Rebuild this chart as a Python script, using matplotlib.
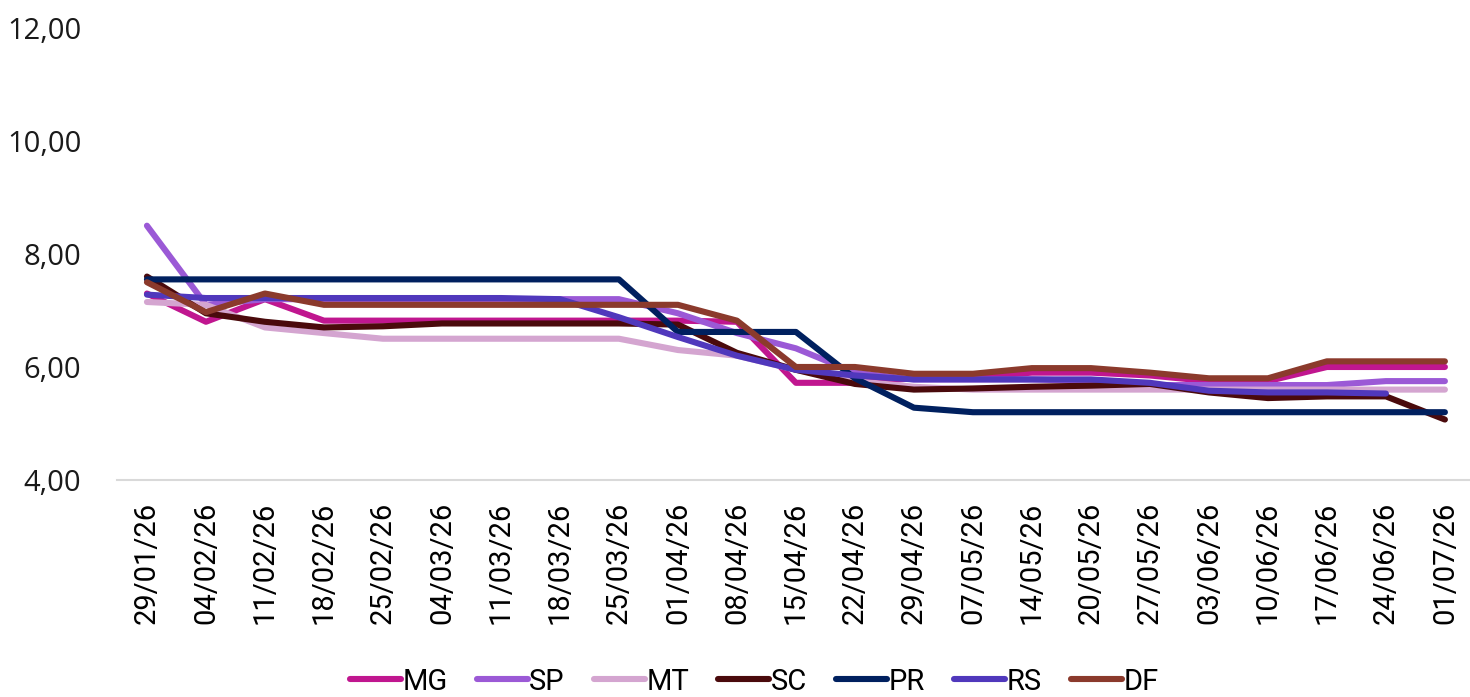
import matplotlib
matplotlib.use("Agg")
import matplotlib.pyplot as plt
import numpy as np

dates = ["29/01/26", "04/02/26", "11/02/26", "18/02/26", "25/02/26", "04/03/26",
         "11/03/26", "18/03/26", "25/03/26", "01/04/26", "08/04/26", "15/04/26",
         "22/04/26", "29/04/26", "07/05/26", "14/05/26", "20/05/26", "27/05/26",
         "03/06/26", "10/06/26", "17/06/26", "24/06/26", "01/07/26"]

mg = [7.30, 6.80, 7.20, 6.82, 6.82, 6.82, 6.82, 6.82, 6.82, 6.82, 6.80, 5.72,
      5.72, 5.80, 5.82, 5.90, 5.90, 5.85, 5.75, 5.75, 6.00, 6.00, 6.00]
sp = [8.50, 7.10, 7.20, 7.20, 7.20, 7.20, 7.20, 7.20, 7.20, 6.95, 6.60, 6.33,
      5.90, 5.78, 5.78, 5.78, 5.75, 5.68, 5.68, 5.68, 5.68, 5.75, 5.75]
mt = [7.15, 7.10, 6.70, 6.60, 6.50, 6.50, 6.50, 6.50, 6.50, 6.30, 6.20, 5.95,
      5.75, 5.65, 5.60, 5.60, 5.60, 5.60, 5.60, 5.60, 5.60, 5.60, 5.60]
sc = [7.60, 6.95, 6.80, 6.70, 6.72, 6.77, 6.77, 6.77, 6.77, 6.75, 6.25, 5.95,
      5.70, 5.60, 5.62, 5.65, 5.67, 5.70, 5.55, 5.45, 5.48, 5.48, 5.07]
pr = [7.55, 7.55, 7.55, 7.55, 7.55, 7.55, 7.55, 7.55, 7.55, 6.62, 6.62, 6.62,
      5.80, 5.28, 5.20, 5.20, 5.20, 5.20, 5.20, 5.20, 5.20, 5.20, 5.20]
rs = [7.28, 7.22, 7.22, 7.22, 7.22, 7.22, 7.22, 7.20, 6.88, 6.53, 6.20, 5.95,
      5.85, 5.78, 5.78, 5.78, 5.78, 5.72, 5.58, 5.55, 5.55, 5.53, np.nan]
df = [7.50, 6.97, 7.30, 7.10, 7.10, 7.10, 7.10, 7.10, 7.10, 7.10, 6.82, 6.00,
      6.00, 5.88, 5.88, 5.98, 5.98, 5.90, 5.80, 5.80, 6.10, 6.10, 6.10]

series = [("MG", mg, "#C0168F"), ("SP", sp, "#9B59D6"), ("MT", mt, "#D4A5D0"),
          ("SC", sc, "#4A0A0C"), ("PR", pr, "#00205F"), ("RS", rs, "#5038BC"),
          ("DF", df, "#8B3A2C")]

fig = plt.figure(figsize=(14.7, 6.97), dpi=100)
ax = fig.add_axes([0.0799, 0.3113, 0.9231, 0.6487])

x = np.arange(len(dates))
for name, vals, col in series:
    ax.plot(x, vals, color=col, lw=4.4, label=name,
            solid_capstyle="round", solid_joinstyle="round")

ax.set_xlim(-0.5, len(dates) - 0.5)
ax.set_ylim(4, 12)
ax.set_yticks([4, 6, 8, 10, 12])
ax.set_yticklabels(["4,00", "6,00", "8,00", "10,00", "12,00"],
                   fontsize=21, family="Open Sans", color="#1a1a1a")
ax.set_xticks(x)
ax.set_xticklabels(dates, rotation=90, fontsize=21, family="Roboto", color="#000000")
ax.tick_params(axis="y", length=0, pad=26)
ax.tick_params(axis="x", length=0, pad=16)

for s in ["top", "right", "left"]:
    ax.spines[s].set_visible(False)
ax.spines["bottom"].set_color("#d9d9d9")
ax.spines["bottom"].set_linewidth(1.5)

leg = fig.legend(loc="center", bbox_to_anchor=(0.513, 0.022), ncol=7,
                 frameon=False, handlelength=1.75, handletextpad=0.05,
                 columnspacing=1.0, borderpad=0.2,
                 prop={"family": "Roboto", "size": 21})
for h in leg.get_lines():
    h.set_linewidth(4.4)
    h.set_solid_capstyle("round")

fig.savefig("out.png", dpi=100)
